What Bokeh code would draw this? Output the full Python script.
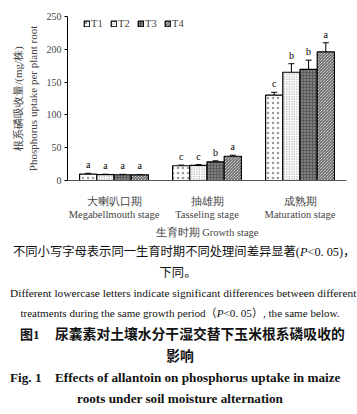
from bokeh.plotting import figure
from bokeh.models import (ColumnDataSource, Range1d, FactorRange, Whisker, TeeHead,
                          Legend, LegendItem, Div)
from bokeh.layouts import column
from bokeh.transform import dodge
from bokeh.core.properties import value
from bokeh.embed import file_html
from bokeh.resources import INLINE

# ---------------- data ----------------
stages = ["大喇叭口期\nMegabellmouth stage", "抽雄期\nTasseling stage", "成熟期\nMaturation stage"]
treatments = ["T1", "T2", "T3", "T4"]
T1 = [9.8, 22.5, 130.0]
T2 = [9.0, 23.0, 165.0]
T3 = [8.8, 28.5, 169.5]
T4 = [8.6, 37.0, 196.0]
T1_err = [1.2, 1.0, 4.5]
T2_err = [0.6, 1.2, 13.0]
T3_err = [0.6, 1.5, 14.0]
T4_err = [0.6, 1.5, 14.0]
T1_sig = ["a", "c", "c"]
T2_sig = ["a", "c", "b"]
T3_sig = ["a", "b", "b"]
T4_sig = ["a", "a", "a"]
y_ticks = [0, 50, 100, 150, 200, 250]

note_cn = "不同小写字母表示同一生育时期不同处理间差异显著(<i>P</i>&lt;0. 05)，"
note_cn2 = "下同。"
note_en = "Different lowercase letters indicate significant differences between different"
note_en2 = "treatments during the same growth period（<i>P</i>&lt;0. 05）, the same below."
fig_no_cn = "图1"
title_cn = "尿囊素对土壤水分干湿交替下玉米根系磷吸收的"
title_cn2 = "影响"
fig_no_en = "Fig. 1"
title_en = "Effects of allantoin on phosphorus uptake in maize"
title_en2 = "roots under soil moisture alternation"

values = [T1, T2, T3, T4]
errors = [T1_err, T2_err, T3_err, T4_err]
sigs = [T1_sig, T2_sig, T3_sig, T4_sig]

SERIF = "Liberation Serif"

W = 357
FIG_H = 240
p = figure(width=W, height=FIG_H, x_range=FactorRange(*stages), y_range=Range1d(0, 250),
           output_backend="svg", toolbar_location=None,
           min_border_left=67, min_border_right=11, min_border_top=16, min_border_bottom=50)
p.outline_line_color = None
p.xgrid.grid_line_color = None
p.ygrid.grid_line_color = None
p.background_fill_color = "white"

bar_w = 0.185
offsets = [(-1.5 + i) * bar_w for i in range(4)]

styles = [
    dict(fill_color="white", hatch_pattern="dot", hatch_color="#9a9a9a", hatch_scale=5, hatch_weight=0.5),
    dict(fill_color="white", hatch_pattern="dot", hatch_color="#8a8a8a", hatch_scale=2.5, hatch_weight=0.5),
    dict(fill_color="#5c5c5c", hatch_pattern="dot", hatch_color="#b5b5b5", hatch_scale=3, hatch_weight=0.5),
    dict(fill_color="white", hatch_pattern="\\", hatch_color="#333333", hatch_scale=3, hatch_weight=0.9),
]

legend_items = []
for i, t in enumerate(treatments):
    top = values[i]
    upper = [v + e for v, e in zip(values[i], errors[i])]
    src = ColumnDataSource(dict(stage=stages, top=top, upper=upper, sig=sigs[i]))
    xs = dodge("stage", offsets[i], range=p.x_range)
    r = p.vbar(x=xs, top="top", bottom=0, width=bar_w, source=src,
               line_color="black", line_width=1.2, **styles[i])
    legend_items.append(LegendItem(label=t, renderers=[r]))
    w = Whisker(source=src, base=xs, lower="top", upper="upper",
                line_color="black", line_width=1,
                upper_head=TeeHead(size=6, line_color="black", line_width=1), lower_head=None)
    p.add_layout(w)
    p.text(x=xs, y="upper", text="sig", source=src, text_align="center",
           text_baseline="bottom", y_offset=-3, text_font=value(SERIF),
           text_font_size="10px", text_color="black")

legend = Legend(items=legend_items, orientation="horizontal", location=(16, 150),
                glyph_width=7, glyph_height=7, label_standoff=1, spacing=5, padding=0,
                margin=0, border_line_color=None, background_fill_alpha=0,
                label_text_font=SERIF, label_text_font_size="10.5px",
                label_height=13, label_width=14)
p.add_layout(legend, "center")

# axes
p.yaxis.ticker = y_ticks
p.yaxis.major_tick_out = 3
p.yaxis.major_tick_in = 0
p.yaxis.minor_tick_line_color = None
p.yaxis.major_label_standoff = 3
p.yaxis.major_label_text_font = SERIF
p.yaxis.major_label_text_font_size = "10px"
p.yaxis.axis_label = "根系磷吸收量/(mg/株)\nPhosphorus uptake per plant root"
p.yaxis.axis_label_text_font = SERIF
p.yaxis.axis_label_text_font_style = "normal"
p.yaxis.axis_label_text_font_size = "11px"
p.yaxis.axis_label_standoff = 5
p.yaxis.axis_line_color = "black"

p.xaxis.major_tick_line_color = None
p.xaxis.minor_tick_line_color = None
p.xaxis.axis_line_color = "#555555"
p.xaxis.major_label_standoff = 9
p.xaxis.major_label_text_font = SERIF
p.xaxis.major_label_text_font_size = "10.5px"
p.xaxis.axis_label = "生育时期 Growth stage"
p.xaxis.axis_label_text_font = SERIF
p.xaxis.axis_label_text_font_style = "normal"
p.xaxis.axis_label_text_font_size = "10.5px"
p.xaxis.axis_label_standoff = 4

# captions (absolute positions inside the Div; Div top = FIG_H)
SER = "font-family:'Liberation Serif','Noto Sans CJK SC',serif;"
def span(txt, x, y, size, bold=False, center=False):
    style = f"position:absolute;top:{y - FIG_H}px;transform:translateY(-50%);white-space:nowrap;" \
            f"font-size:{size}px;line-height:1.2;color:#111;{SER}"
    if bold:
        style += "font-weight:bold;"
    if center:
        style += f"left:{x - 170}px;width:340px;text-align:center;"
    else:
        style += f"left:{x}px;"
    return f'<span style="{style}">{txt}</span>'

parts = [
    span(note_cn, 13, 252, 12.3),
    span(note_cn2, 178, 273, 12.3, center=True),
    span(note_en, 10, 294, 11.4),
    span(note_en2, 180, 314, 11.1, center=True),
    span(fig_no_cn, 20, 335, 13, bold=True),
    span(title_cn, 55, 335, 13.8, bold=True),
    span(title_cn2, 180, 357, 13.8, bold=True, center=True),
    span(fig_no_en, 10, 378, 13.2, bold=True),
    span(title_en, 55, 378, 13.2, bold=True),
    span(title_en2, 180, 399, 13.2, bold=True, center=True),
]
DIV_H = 414 - FIG_H
div = Div(width=W, height=DIV_H, margin=(0, 0, 0, 0),
          text=f'<div style="position:relative;width:{W}px;height:{DIV_H}px;">' + "".join(parts) + "</div>")

layout = column(p, div, spacing=0)
open("out.html", "w").write(file_html(layout, INLINE))
